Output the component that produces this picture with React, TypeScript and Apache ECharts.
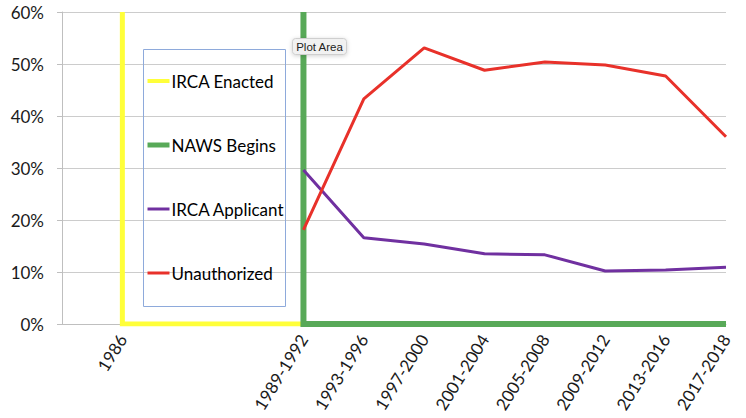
import React, { useEffect, useRef } from "react";
import * as echarts from "echarts";

const periods = [
  "1989-1992",
  "1993-1996",
  "1997-2000",
  "2001-2004",
  "2005-2008",
  "2009-2012",
  "2013-2016",
  "2017-2018",
];
const leadCategories = ["", "1986", "", ""];
const categories = [...leadCategories, ...periods];

const ircaApplicant = [29.6, 16.6, 15.4, 13.5, 13.3, 10.2, 10.4, 10.9];
const unauthorized = [18.1, 43.3, 53.1, 48.8, 50.4, 49.8, 47.7, 36.0];

// marker lines: [category index, value]
const ircaEnacted = [
  [1, 60],
  [1, 0],
  [4, 0],
];
const nawsBegins = [
  [4, 60],
  [4, 0],
  [11, 0],
];

const yTicks = { min: 0, max: 60, interval: 10 };

const pad = (arr: number[]) => [...leadCategories.map(() => null), ...arr];

const YELLOW = "#ffff3a";
const GREEN = "#58a958";
const PURPLE = "#7030a0";
const RED = "#e8312a";

export default function App() {
  const ref = useRef<HTMLDivElement>(null);
  useEffect(() => {
    document.body.style.margin = "0";
    if (!ref.current) return;
    const chart = echarts.init(ref.current, undefined, { renderer: "svg" });
    const font = "Lato";
    chart.setOption({
      animation: false,
      grid: { left: 62, right: 20, top: 12, bottom: 94, containLabel: false },
      xAxis: {
        type: "category",
        data: categories,
        boundaryGap: false,
        axisLine: { show: true, lineStyle: { color: "#bfbfbf", width: 1 } },
        axisTick: { show: false },
        splitLine: { show: false },
        axisLabel: {
          interval: 0,
          rotate: 58,
          margin: 12,
          fontFamily: font,
          fontSize: 17,
          color: "#1a1a1a",
        },
      },
      yAxis: {
        type: "value",
        min: yTicks.min,
        max: yTicks.max,
        interval: yTicks.interval,
        axisLine: { show: true, lineStyle: { color: "#bfbfbf", width: 1 } },
        axisTick: { show: true, length: 5, lineStyle: { color: "#bfbfbf" } },
        splitLine: { show: true, lineStyle: { color: "#cccccc", width: 1 } },
        axisLabel: {
          formatter: "{value}%",
          margin: 18,
          fontFamily: font,
          fontSize: 17,
          color: "#1a1a1a",
        },
      },
      legend: {
        orient: "vertical",
        left: 145,
        top: 71,
        padding: 0,
        itemWidth: 22,
        itemHeight: 14,
        itemGap: 44,
        itemStyle: { opacity: 0 },
        textStyle: {
          fontFamily: font,
          fontSize: 17,
          lineHeight: 20,
          color: "#000",
          padding: [0, 0, 0, -3],
        },
        data: [
          { name: "IRCA Enacted", lineStyle: { width: 4 } },
          { name: "NAWS Begins", lineStyle: { width: 5 } },
          { name: "IRCA Applicant", lineStyle: { width: 3 } },
          { name: "Unauthorized", lineStyle: { width: 3 } },
        ],
      },
      series: [
        {
          name: "IRCA Enacted",
          type: "line",
          data: ircaEnacted,
          symbol: "none",
          lineStyle: { color: YELLOW, width: 5, cap: "butt", join: "miter" },
          itemStyle: { color: YELLOW },
        },
        {
          name: "NAWS Begins",
          type: "line",
          data: nawsBegins,
          symbol: "none",
          lineStyle: { color: GREEN, width: 6, cap: "butt", join: "miter" },
          itemStyle: { color: GREEN },
        },
        {
          name: "IRCA Applicant",
          type: "line",
          data: pad(ircaApplicant),
          symbol: "none",
          lineStyle: { color: PURPLE, width: 3 },
          itemStyle: { color: PURPLE },
        },
        {
          name: "Unauthorized",
          type: "line",
          data: pad(unauthorized),
          symbol: "none",
          lineStyle: { color: RED, width: 3 },
          itemStyle: { color: RED },
        },
      ],
      graphic: [
        {
          type: "rect",
          z: 50,
          shape: { x: 143.5, y: 49.5, width: 142, height: 257 },
          style: { fill: "none", stroke: "#8eaadb", lineWidth: 1 },
        },
        {
          type: "rect",
          z: 100,
          shape: { x: 292.5, y: 38.5, width: 54, height: 16, r: 3 },
          style: {
            fill: "#f1f1f1",
            stroke: "#cfcfcf",
            lineWidth: 1,
            shadowBlur: 4,
            shadowColor: "rgba(0,0,0,0.18)",
            shadowOffsetY: 1,
          },
        },
        {
          type: "text",
          z: 101,
          x: 319.5,
          y: 47,
          style: {
            text: "Plot Area",
            fontFamily: "Liberation Sans",
            fontSize: 11.5,
            fill: "#222",
            align: "center",
            verticalAlign: "middle",
          },
        },
      ],
    });
    return () => chart.dispose();
  }, []);
  return <div ref={ref} style={{ width: 746, height: 418 }} />;
}
